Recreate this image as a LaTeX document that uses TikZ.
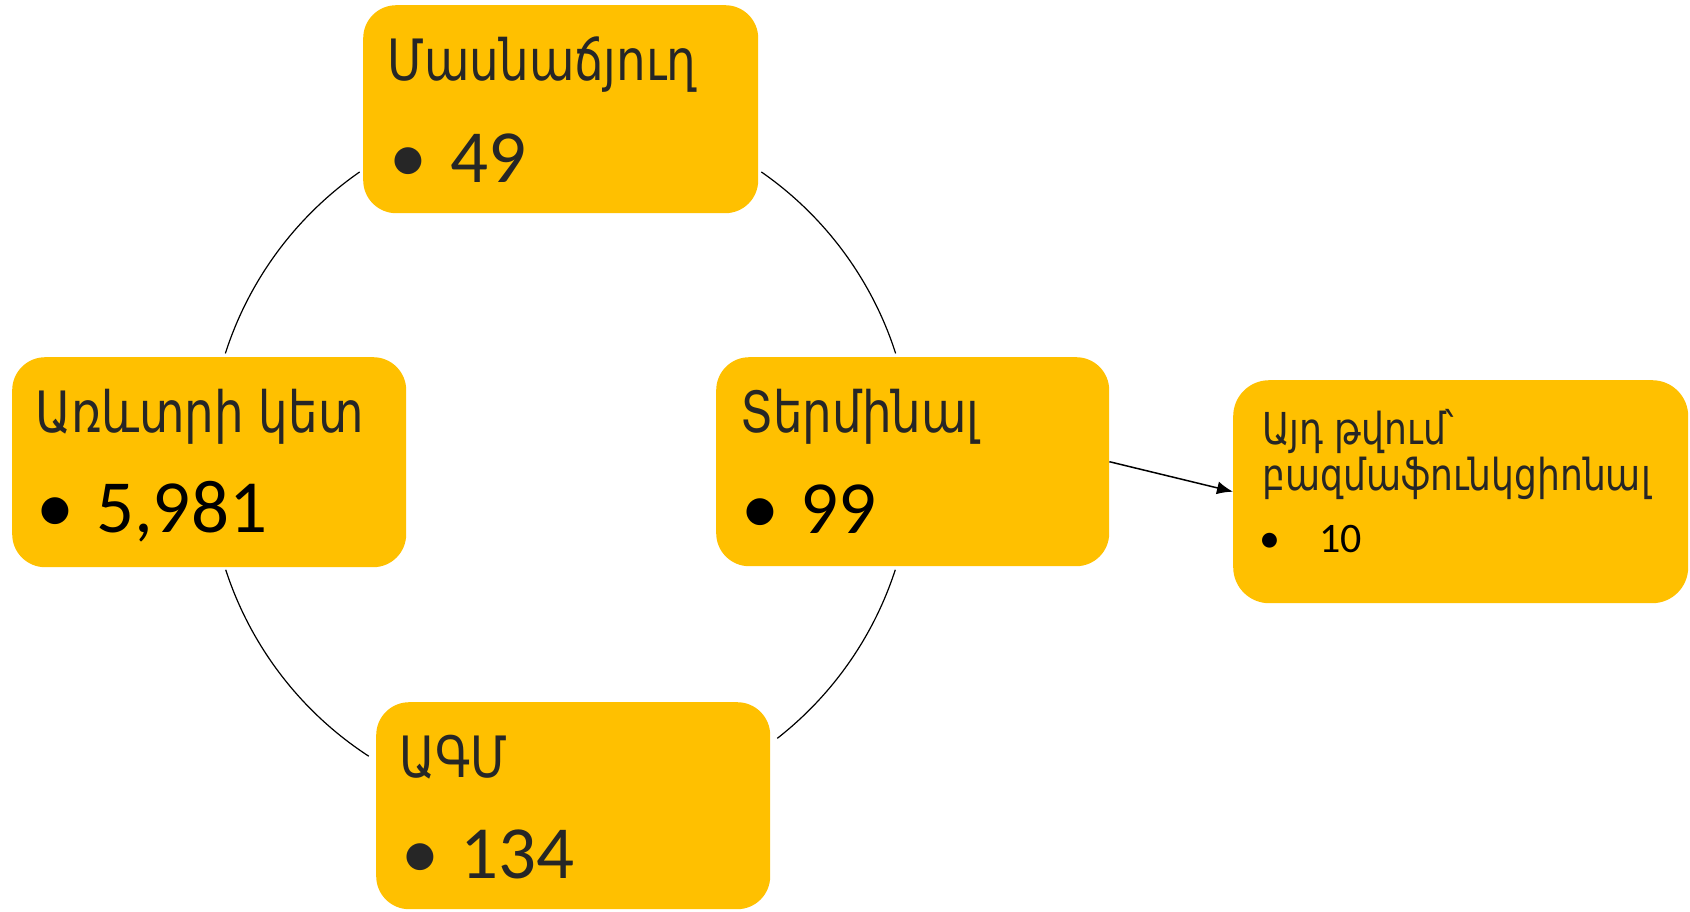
\documentclass[tikz,border=0pt]{standalone}
\usepackage{fontspec}
\usetikzlibrary{arrows.meta}
\newfontfamily\armfont[FakeStretch=0.82]{DejaVu Sans}
\newfontfamily\digfont{Carlito}
\definecolor{gold}{HTML}{FFC000}
\definecolor{darktxt}{HTML}{262626}
\tikzset{
  box/.style={fill=gold, draw=none, rounded corners=33pt, anchor=north west, inner sep=0pt},
  ttl/.style={anchor=base west, inner sep=0pt, font=\armfont\fontsize{57}{68}\selectfont, text=darktxt},
  num/.style={anchor=base west, inner sep=0pt, font=\digfont\fontsize{75}{90}\selectfont},
  bul/.style={anchor=base, inner sep=0pt, font=\digfont\fontsize{76}{90}\selectfont},
  sttl/.style={anchor=base west, inner sep=0pt, font=\armfont\fontsize{44}{50}\selectfont, text=darktxt},
  snum/.style={anchor=base west, inner sep=0pt, font=\digfont\fontsize{42}{50}\selectfont},
  sbul/.style={anchor=base, inner sep=0pt, font=\digfont\fontsize{42}{50}\selectfont},
  ring/.style={draw=black, line width=1.2pt},
  link/.style={draw=black, line width=1.5pt, -{Latex[length=16pt,width=13pt]}}
}
\begin{document}
\begin{tikzpicture}[x=1pt,y=-1pt]
\useasboundingbox (0,0) rectangle (1690,911);
% boxes
\node[box, minimum width=395pt, minimum height=208pt] (top) at (363,5) {};
\node[box, minimum width=394pt, minimum height=210pt] (left) at (12,357) {};
\node[box, minimum width=393pt, minimum height=209pt] (term) at (716,357) {};
\node[box, minimum width=394pt, minimum height=207pt] (bot) at (376,702) {};
\node[box, minimum width=455pt, minimum height=223pt, rounded corners=36pt] (right) at (1233,380) {};
% ring arcs
\coordinate (c) at (560.5,461);
\draw[ring] ([shift={(-124.8:352)}]c) arc[start angle=-124.8, end angle=-162.2, radius=352];
\draw[ring] ([shift={(-55.2:352)}]c) arc[start angle=-55.2, end angle=-17.8, radius=352];
\draw[ring] ([shift={(18:352)}]c) arc[start angle=18, end angle=52, radius=352];
\draw[ring] ([shift={(123:352)}]c) arc[start angle=123, end angle=162, radius=352];
% arrow
\draw[link] (term.east) -- (right.west);
% texts
\node[ttl] (t1) at (387,80) {Մասնաճյուղ};
\node[bul, text=darktxt] (b1) at (408,182) {•};
\node[num, text=darktxt] (n1) at (450,182) {49};

\node[ttl] (t2) at (35,432) {Առևտրի կետ};
\node[bul, text=black] (b2) at (55,532) {•};
\node[num, text=black] (n2) at (96,532) {5,981};

\node[ttl] (t3) at (740,432) {Տերմինալ};
\node[bul, text=black] (b3) at (760,533) {•};
\node[num, text=black] (n3) at (800,533) {99};

\node[ttl] (t4) at (399,777) {ԱԳՄ};
\node[bul, text=darktxt] (b4) at (420,878) {•};
\node[num, text=darktxt] (n4) at (460,878) {134};

\node[sttl] (t5) at (1262,444) {Այդ թվում՝};
\node[sttl] (t6) at (1262,490) {բազմաֆունկցիոնալ};
\node[sbul, text=black] (b5) at (1270,552) {•};
\node[snum, text=black] (n5) at (1319,552) {10};
\end{tikzpicture}
\end{document}
